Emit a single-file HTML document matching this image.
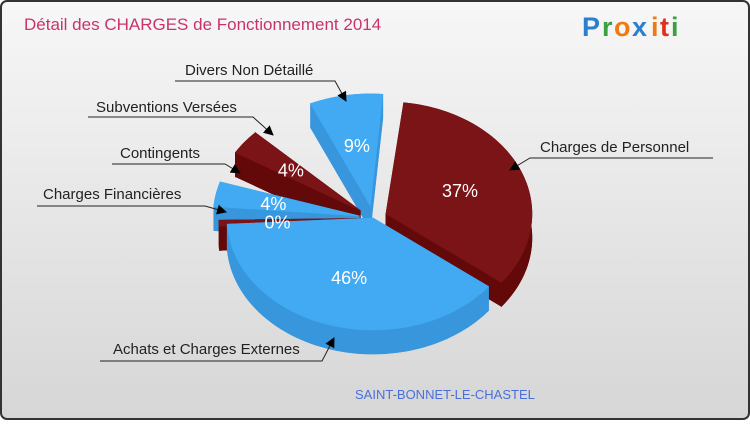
<!DOCTYPE html>
<html><head><meta charset="utf-8"><style>
body{margin:0;width:750px;height:420px;overflow:hidden;font-family:"Liberation Sans",sans-serif}
</style></head><body>
<svg id="c" width="750" height="420" xmlns="http://www.w3.org/2000/svg">
<defs><linearGradient id="bg" x1="0" y1="0" x2="0" y2="1"><stop offset="0" stop-color="#f7f7f7"/><stop offset="1" stop-color="#d6d6d6"/></linearGradient>
<marker id="ar" markerWidth="10" markerHeight="10" refX="9" refY="5" orient="auto" markerUnits="userSpaceOnUse"><path d="M0,0 L10,5 L0,10 z" fill="#000"/></marker></defs>
<rect x="1" y="1" width="748" height="418" rx="6" fill="url(#bg)" stroke="#333" stroke-width="2"/>
<text x="24" y="30" font-size="17" fill="#c8336e">Détail des CHARGES de Fonctionnement 2014</text>
<g font-size="27" font-weight="bold" font-family="Liberation Sans,sans-serif">
<text x="582" y="36" fill="#2a7fd0">P</text><text x="602" y="36" fill="#3aa040">r</text><text x="614" y="36" fill="#f07a10">o</text><text x="632" y="36" fill="#2a7fd0">x</text><text x="651" y="36" fill="#f07a10">i</text><text x="660" y="36" fill="#e03020">t</text><text x="671" y="36" fill="#3aa040">i</text></g>
<g id="pie"></g>
<g id="lab"></g>
<text x="355" y="399" font-size="13" fill="#4a6fdc">SAINT-BONNET-LE-CHASTEL</text>
</svg>
<script>
const categories=["Charges de Personnel","Achats et Charges Externes","Charges Financières","Contingents","Subventions Versées","Divers Non Détaillé"];
const values=[37,46,0.4,4,4,9];
const pctLabels=["37%","46%","0%","4%","4%","9%"];
const NS="http://www.w3.org/2000/svg";
const cx=373,cy=218,rx=146,ry=112,depth=24;
const exploded=[14,0,8,14,16,16];
const labelR=[0.55,0.55,0.6,0.6,0.6,0.55];
const tops=["#7b1416","#42aaf2","#7b1416","#42aaf2","#7b1416","#42aaf2"];
const sides=["#640909","#3896dc","#640909","#3896dc","#640909","#3896dc"];
const warpIn=[0,133,299,360],warpOut=[7,128,268,380];
function warp(a){for(let k=0;k<warpIn.length-1;k++){if(a<=warpIn[k+1]){const f=(a-warpIn[k])/(warpIn[k+1]-warpIn[k]);return warpOut[k]+f*(warpOut[k+1]-warpOut[k]);}}return warpOut[warpOut.length-1];}
const pie=document.getElementById('pie');
const total=values.reduce((a,b)=>a+b,0);
function pt(a,r,ox,oy,dy){const t=a*Math.PI/180;return [cx+ox+r*rx*Math.sin(t),cy+oy+dy-r*ry*Math.cos(t)];}
let acc=0;const slices=[];
values.forEach((v,i)=>{const t0=acc,t1=acc+v/total*360;acc=t1;let a0,a1;
if(t1<=300&&v/total>0.1){a0=warp(t0);a1=warp(t1);}else{const c=warp((t0+t1)/2),h=Math.max(1.6,0.9*(t1-t0)/2);a0=c-h;a1=c+h;}
const m=(a0+a1)/2,t=m*Math.PI/180;
slices.push({i,a0,a1,m,ox:exploded[i]*Math.sin(t),oy:-exploded[i]*Math.cos(t)*ry/rx});});
function arc(s,dy){let p=[];const n=Math.max(2,Math.ceil((s.a1-s.a0)/2));for(let k=0;k<=n;k++)p.push(pt(s.a0+(s.a1-s.a0)*k/n,1,s.ox,s.oy,dy));return p;}
function poly(pts,fill,name){const e=document.createElementNS(NS,'polygon');e.setAttribute('points',pts.map(p=>p.join(',')).join(' '));e.setAttribute('fill',fill);e.setAttribute('stroke',fill);e.setAttribute('stroke-width','0.6');


pie.appendChild(e);}
const order=slices.slice().sort((a,b)=>Math.cos(b.m*Math.PI/180)-Math.cos(a.m*Math.PI/180));
order.forEach(s=>{const c=[cx+s.ox,cy+s.oy];const top=arc(s,0),bot=arc(s,depth);
poly([[c[0],c[1]+depth],...bot],sides[s.i],'slice-bottom');
poly([c,[c[0],c[1]+depth],bot[0],top[0]],sides[s.i],'slice-side');
poly([c,[c[0],c[1]+depth],bot[bot.length-1],top[top.length-1]],sides[s.i],'slice-side');
poly([...top,...bot.slice().reverse()],sides[s.i],'slice-wall');
poly([c,...top],tops[s.i],'slice-'+categories[s.i].toLowerCase().replace(/[^a-z]+/g,'-'));});
slices.forEach(s=>{const p=pt(s.m,labelR[s.i],s.ox,s.oy,0);
const e=document.createElementNS(NS,'text');e.setAttribute('x',p[0]);e.setAttribute('y',p[1]+7);e.setAttribute('text-anchor','middle');e.setAttribute('font-size','18');e.setAttribute('fill','#fff');e.textContent=pctLabels[s.i];


pie.appendChild(e);});
const lab=document.getElementById('lab');
const callouts=[[540,152,[[713,158],[530,158],[510,170]]],[113,354,[[100,361],[322,361],[334,338]]],[43,199,[[37,206],[205,206],[226,212]]],[120,158,[[112,164],[225,164],[240,173]]],[96,112,[[88,117],[253,117],[273,135]]],[185,75,[[175,81],[335,81],[346,101]]]];
callouts.forEach((c,i)=>{const t=document.createElementNS(NS,'text');t.setAttribute('x',c[0]);t.setAttribute('y',c[1]);t.setAttribute('font-size','15');t.setAttribute('fill','#222');t.textContent=categories[i];


lab.appendChild(t);
const l=document.createElementNS(NS,'polyline');l.setAttribute('points',c[2].map(p=>p.join(',')).join(' '));l.setAttribute('fill','none');l.setAttribute('stroke','#222');l.setAttribute('stroke-width','1');l.setAttribute('marker-end','url(#ar)');


lab.appendChild(l);});
</script>
</body></html>
